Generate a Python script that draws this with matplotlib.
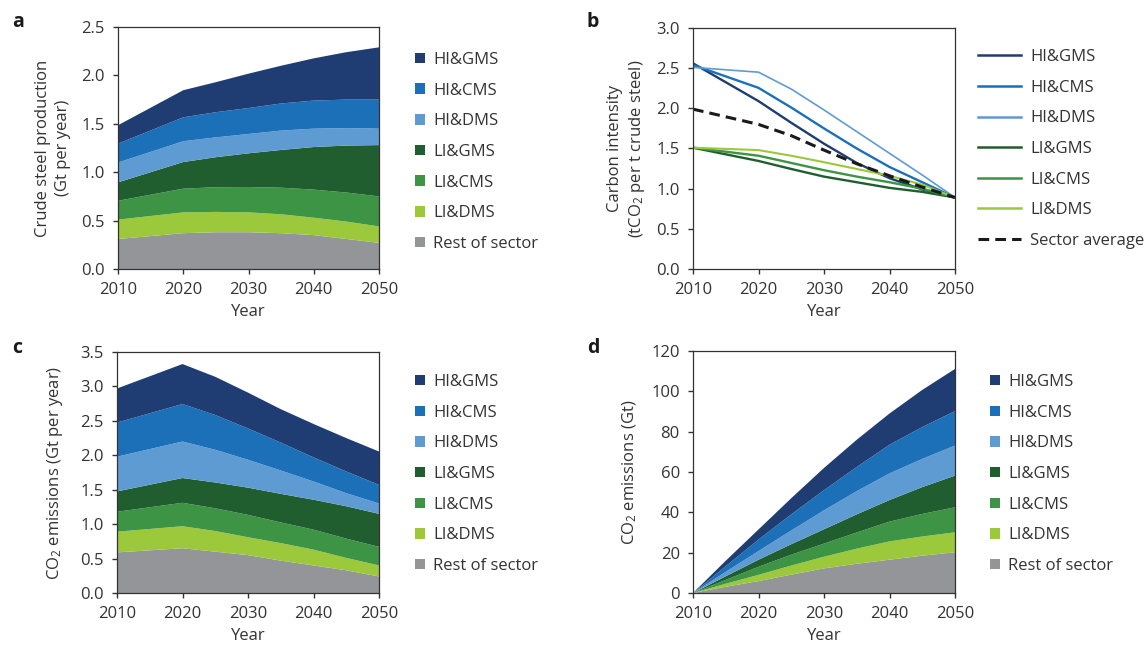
"""Steel sector production, carbon intensity and emissions by scenario."""

import matplotlib
matplotlib.use("Agg")
import matplotlib.pyplot as plt
from matplotlib.patches import Patch
from matplotlib.lines import Line2D

plt.rcParams['font.family'] = ['Open Sans', 'DejaVu Sans']
plt.rcParams['mathtext.fontset'] = 'custom'
plt.rcParams['mathtext.rm'] = 'Open Sans'
plt.rcParams['mathtext.it'] = 'Open Sans'
plt.rcParams['text.color'] = '#333333'
plt.rcParams['axes.labelcolor'] = '#333333'
plt.rcParams['xtick.color'] = '#333333'
plt.rcParams['ytick.color'] = '#333333'

# --- data -------------------------------------------------------------
scenarios = ['HI&GMS', 'HI&CMS', 'HI&DMS', 'LI&GMS', 'LI&CMS', 'LI&DMS']
stack_labels = scenarios + ['Rest of sector']
colors = ['#1f3d73', '#1c70b8', '#5f9bd3', '#215e2f', '#3c9444', '#9bc93b', '#939598']

# a: crude steel production (Gt per year), one layer per group
years_a = [2010, 2020, 2025, 2030, 2035, 2040, 2045, 2050]
prod_rest = [0.31, 0.37, 0.38, 0.38, 0.37, 0.35, 0.31, 0.27]
prod_li_dms = [0.20, 0.215, 0.21, 0.205, 0.195, 0.18, 0.18, 0.17]
prod_li_cms = [0.195, 0.245, 0.255, 0.262, 0.275, 0.29, 0.30, 0.31]
prod_li_gms = [0.19, 0.275, 0.31, 0.348, 0.39, 0.44, 0.485, 0.53]
prod_hi_dms = [0.205, 0.215, 0.205, 0.20, 0.20, 0.19, 0.18, 0.17]
prod_hi_cms = [0.195, 0.247, 0.26, 0.268, 0.28, 0.29, 0.295, 0.30]
prod_hi_gms = [0.19, 0.28, 0.31, 0.355, 0.39, 0.436, 0.49, 0.54]

# b: carbon intensity (tCO2 per t crude steel)
years_b = [2010, 2020, 2025, 2030, 2035, 2040, 2045, 2050]
ci_hi_gms = [2.56, 2.09, 1.82, 1.56, 1.32, 1.13, 0.99, 0.89]
ci_hi_cms = [2.54, 2.255, 2.01, 1.75, 1.50, 1.27, 1.08, 0.89]
ci_hi_dms = [2.51, 2.45, 2.24, 1.98, 1.71, 1.44, 1.17, 0.89]
ci_li_gms = [1.51, 1.345, 1.245, 1.15, 1.08, 1.01, 0.96, 0.89]
ci_li_cms = [1.51, 1.41, 1.32, 1.23, 1.15, 1.08, 1.00, 0.89]
ci_li_dms = [1.51, 1.48, 1.41, 1.33, 1.245, 1.16, 1.05, 0.89]
ci_average = [1.99, 1.80, 1.66, 1.48, 1.31, 1.16, 1.02, 0.89]

# c: annual CO2 emissions (Gt per year)
years_c = [2010, 2020, 2025, 2030, 2035, 2040, 2045, 2050]
em_rest = [0.59, 0.65, 0.60, 0.55, 0.47, 0.40, 0.33, 0.24]
em_li_dms = [0.30, 0.32, 0.30, 0.26, 0.255, 0.23, 0.18, 0.16]
em_li_cms = [0.29, 0.34, 0.33, 0.325, 0.30, 0.29, 0.28, 0.27]
em_li_gms = [0.295, 0.36, 0.375, 0.395, 0.415, 0.435, 0.47, 0.48]
em_hi_dms = [0.505, 0.53, 0.475, 0.405, 0.34, 0.265, 0.19, 0.15]
em_hi_cms = [0.495, 0.545, 0.505, 0.455, 0.405, 0.35, 0.315, 0.27]
em_hi_gms = [0.495, 0.58, 0.555, 0.52, 0.485, 0.485, 0.485, 0.485]

# d: cumulative CO2 emissions (Gt)
years_d = [2010, 2015, 2020, 2025, 2030, 2035, 2040, 2045, 2050]
cum_rest = [0, 3.1, 5.9, 9.1, 12.2, 14.5, 16.5, 18.5, 20.2]
cum_li_dms = [0, 1.5, 3.1, 4.5, 5.8, 7.5, 9.1, 9.5, 9.9]
cum_li_cms = [0, 1.9, 4.0, 5.4, 6.5, 8.0, 9.8, 11.2, 12.4]
cum_li_gms = [0, 1.8, 3.5, 5.2, 7.1, 9.0, 10.7, 13.3, 15.7]
cum_hi_dms = [0, 2.2, 4.3, 6.8, 9.4, 11.5, 13.2, 14.0, 14.9]
cum_hi_cms = [0, 2.8, 5.7, 8.0, 10.0, 12.0, 14.2, 15.8, 17.1]
cum_hi_gms = [0, 2.7, 5.0, 8.0, 11.0, 13.5, 15.5, 18.4, 20.9]

W, H = 1145, 646
FS = 12


def style_axes(ax, ymax, ystep, fmt):
    ax.set_xlim(2010, 2050)
    ax.set_ylim(0, ymax)
    ax.set_xticks(range(2010, 2051, 10))
    n = int(round(ymax / ystep))
    ticks = [i * ystep for i in range(n + 1)]
    ax.set_yticks(ticks)
    ax.set_yticklabels([fmt.format(t) for t in ticks])
    ax.tick_params(direction='out', length=3.5, width=1, labelsize=FS)
    ax.tick_params(axis='x', pad=6)
    ax.tick_params(axis='y', pad=6)
    for s in ax.spines.values():
        s.set_color('#333333')
        s.set_linewidth(0.9)
    ax.set_xlabel('Year', fontsize=FS, labelpad=4)


def box(l, t, r, b):
    return [l / W, 1 - b / H, (r - l) / W, (b - t) / H]


def stack_legend(ax, x, y):
    handles = [Patch(facecolor=c, edgecolor='none') for c in colors]
    ax.legend(handles, stack_labels, loc='upper left', bbox_to_anchor=(x / W, 1 - y / H),
              bbox_transform=ax.figure.transFigure, frameon=False, fontsize=FS,
              handlelength=0.6, handleheight=0.6, handletextpad=0.5,
              labelspacing=0.88, borderaxespad=0, borderpad=0)


fig = plt.figure(figsize=(W / 100, H / 100), dpi=100)

# panel a
ax = fig.add_axes(box(118, 27, 379, 269))
ax.stackplot(years_a, prod_rest, prod_li_dms, prod_li_cms, prod_li_gms,
             prod_hi_dms, prod_hi_cms, prod_hi_gms,
             colors=colors[::-1], linewidth=0)
style_axes(ax, 2.5, 0.5, '{:.1f}')
ax.set_ylabel('Crude steel production\n(Gt per year)', fontsize=FS, labelpad=7.5, linespacing=1.35)
stack_legend(ax, 415, 52)

# panel b
ax = fig.add_axes(box(693, 28, 955, 269))
series_b = [ci_hi_gms, ci_hi_cms, ci_hi_dms, ci_li_gms, ci_li_cms, ci_li_dms]
widths_b = [1.7, 1.7, 1.2, 1.7, 1.7, 1.5]
handles = []
for vals, col, lw in zip(series_b, colors, widths_b):
    ax.plot(years_b, vals, color=col, lw=lw)
    handles.append(Line2D([], [], color=col, lw=1.8))
ax.plot(years_b, ci_average, color='#1a1a1a', lw=2.2, dashes=(3.5, 2))
handles.append(Line2D([], [], color='#1a1a1a', lw=2.2, dashes=(3.5, 2)))
style_axes(ax, 3.0, 0.5, '{:.1f}')
ax.set_ylabel('Carbon intensity\n(tCO$_2$ per t crude steel)', fontsize=FS, labelpad=6.5, linespacing=1.3)
ax.legend(handles, scenarios + ['Sector average'], loc='upper left',
          bbox_to_anchor=(978 / W, 1 - 49 / H), bbox_transform=fig.transFigure,
          frameon=False, fontsize=FS, handlelength=2.58, handletextpad=0.54,
          labelspacing=0.88, borderaxespad=0, borderpad=0)

# panel c
ax = fig.add_axes(box(117, 352, 379, 593))
ax.stackplot(years_c, em_rest, em_li_dms, em_li_cms, em_li_gms,
             em_hi_dms, em_hi_cms, em_hi_gms,
             colors=colors[::-1], linewidth=0)
style_axes(ax, 3.5, 0.5, '{:.1f}')
ax.set_ylabel('CO$_2$ emissions (Gt per year)', fontsize=FS, labelpad=11)
stack_legend(ax, 415, 374)

# panel d
ax = fig.add_axes(box(693, 351, 955, 593))
ax.stackplot(years_d, cum_rest, cum_li_dms, cum_li_cms, cum_li_gms,
             cum_hi_dms, cum_hi_cms, cum_hi_gms,
             colors=colors[::-1], linewidth=0)
style_axes(ax, 120, 20, '{:.0f}')
ax.set_ylabel('CO$_2$ emissions (Gt)', fontsize=FS, labelpad=8.5)
stack_legend(ax, 990, 374)

for lab, x, y in [('a', 12, 27), ('b', 587, 27), ('c', 12, 353), ('d', 587, 353)]:
    fig.text(x / W, 1 - y / H, lab, fontsize=14, fontweight='bold', va='baseline', color='#1a1a1a')

fig.savefig('out.png', dpi=100)
plt.close(fig)
